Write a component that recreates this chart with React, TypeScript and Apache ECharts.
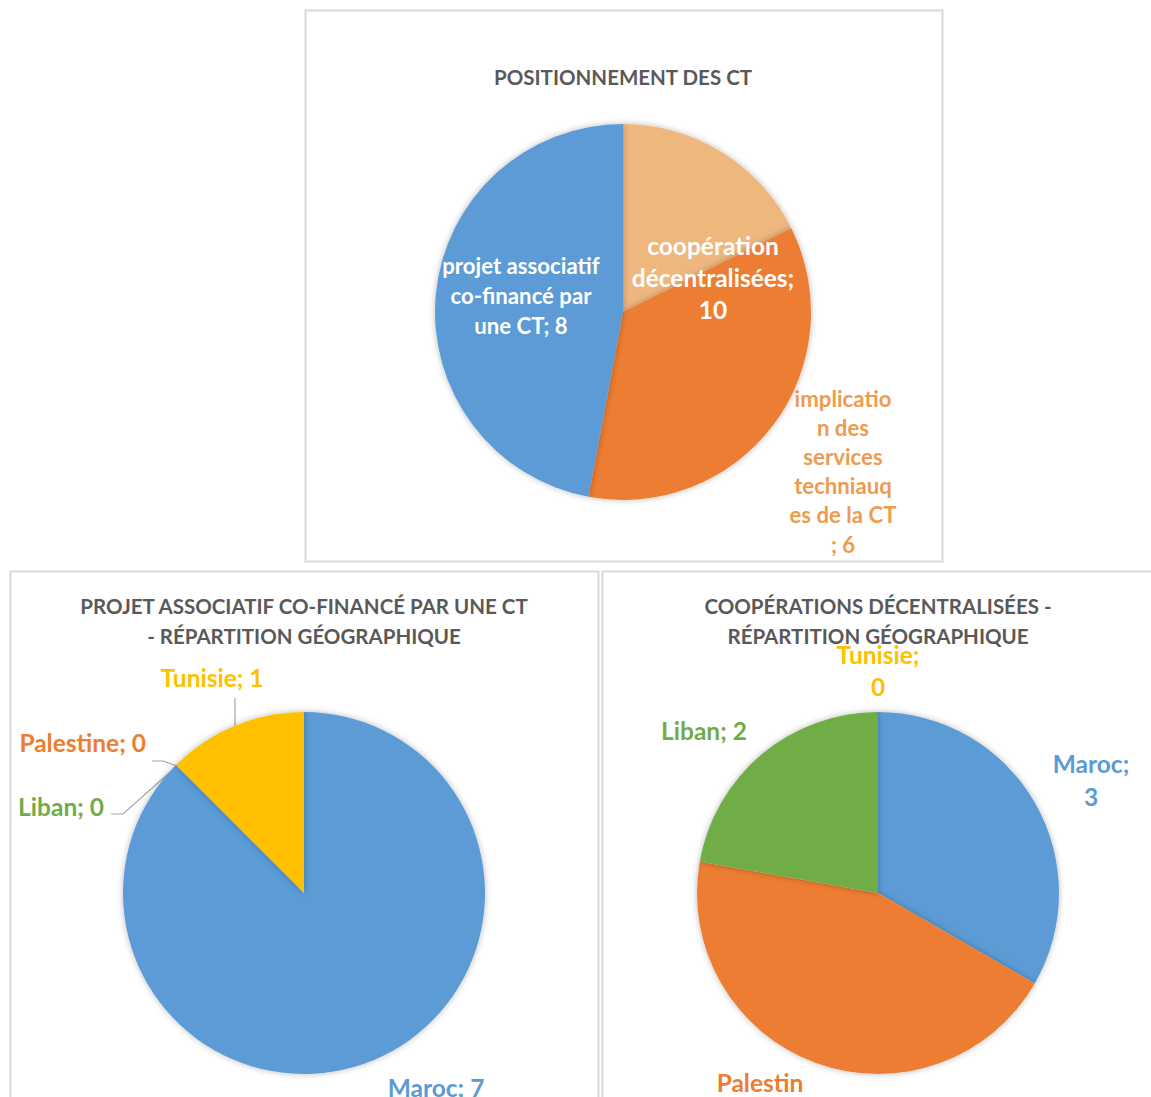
import React, { useEffect, useRef } from 'react';
import * as echarts from 'echarts';

// ---- Data ----
const positionTitle = 'POSITIONNEMENT DES CT';
const positionCategories = [
  'coopération décentralisées',
  'implication des services techniauqes de la CT',
  'projet associatif co-financé par une CT',
];
const positionValues = [3, 6, 8]; // slice sizes as drawn
const positionLabelValues = [10, 6, 8]; // values printed in the labels
const positionLabelTemplates = [
  'coopération\ndécentralisées;\n{v}',
  'implicatio\nn des\nservices\ntechniauq\nes de la CT\n; {v}',
  'projet associatif\nco-financé par\nune CT; {v}',
];

const projetTitle = 'PROJET ASSOCIATIF CO-FINANCÉ PAR UNE CT\n- RÉPARTITION GÉOGRAPHIQUE';
const projetCountries = ['Maroc', 'Palestine', 'Liban', 'Tunisie'];
const projetValues = [7, 0, 0, 1];
const projetTemplates = ['Maroc; {v}', 'Palestine; {v}', 'Liban; {v}', 'Tunisie; {v}'];

const coopTitle = 'COOPÉRATIONS DÉCENTRALISÉES -\nRÉPARTITION GÉOGRAPHIQUE';
const coopCountries = ['Maroc', 'Palestine', 'Liban', 'Tunisie'];
const coopValues = [3, 4, 2, 0];
const coopTemplates = ['Maroc;\n{v}', 'Palestin\ne; {v}', 'Liban; {v}', 'Tunisie;\n{v}'];

// ---- Styles ----
const FONT = 'Lato, "Open Sans", sans-serif';
const TITLE_FS = 20.5;
const TITLE_COLOR = '#595959';
const positionColors = ['#EDB77E', '#ED7D31', '#5B9BD5'];
const positionLabelColors = ['#FFFFFF', '#EE9B4E', '#FFFFFF'];
const countryColors = ['#5B9BD5', '#ED7D31', '#70AD47', '#FFC000'];

const shadow = { shadowBlur: 6, shadowColor: 'rgba(0,0,0,0.28)' };

type Pt = [number, number];
type Lay = { x: number; y: number; align: string; lh: number; fs: number };

const mkLayout = (lays: Lay[], lines?: (Pt[] | null)[]) => (params: any) => {
  const l = lays[params.dataIndex];
  const r: any = { x: l.x, y: l.y, align: l.align, verticalAlign: 'middle' };
  if (lines && lines[params.dataIndex]) r.labelLinePoints = lines[params.dataIndex];
  return r;
};

const fill = (t: string, v: number) => t.replace('{v}', String(v));

export default function App() {
  const ref = useRef<HTMLDivElement>(null);
  useEffect(() => {
    if (!ref.current) return;
    const chart = echarts.init(ref.current, undefined, { renderer: 'svg' });

    const topLays: Lay[] = [
      { x: 713, y: 277, align: 'center', lh: 32, fs: 24.5 },
      { x: 843, y: 471, align: 'center', lh: 29.2, fs: 22.2 },
      { x: 521, y: 295, align: 'center', lh: 30, fs: 22.2 },
    ];
    const projLays: Lay[] = [
      { x: 436, y: 1087, align: 'center', lh: 30, fs: 24.5 },
      { x: 146, y: 742, align: 'right', lh: 30, fs: 24.5 },
      { x: 104, y: 806, align: 'right', lh: 30, fs: 24.5 },
      { x: 212, y: 677, align: 'center', lh: 30, fs: 24.5 },
    ];
    const projLines: (Pt[] | null)[] = [
      null,
      [[177, 766], [163, 761], [152, 761]],
      [[177, 766], [123, 814], [111, 814]],
      [[235, 726], [235, 712], [235, 698]],
    ];
    const coopLays: Lay[] = [
      { x: 1091, y: 779.5, align: 'center', lh: 33, fs: 24.5 },
      { x: 760, y: 1098, align: 'center', lh: 32, fs: 24.5 },
      { x: 704, y: 730, align: 'center', lh: 30, fs: 24.5 },
      { x: 878, y: 670, align: 'center', lh: 32, fs: 24.5 },
    ];

    const baseLabel = {
      show: true,
      position: 'outside',
      fontFamily: FONT,
      fontWeight: 'bold',
    };

    const option: any = {
      animation: false,
      backgroundColor: '#ffffff',
      title: [
        { text: positionTitle, left: 623, top: 62 },
        { text: projetTitle, left: 304, top: 591 },
        { text: coopTitle, left: 878, top: 591 },
      ].map((t) => ({
        ...t,
        textAlign: 'center',
        padding: 0,
        textStyle: {
          fontFamily: FONT,
          fontSize: TITLE_FS,
          fontWeight: 'bold',
          color: TITLE_COLOR,
          lineHeight: 30,
        },
      })),
      graphic: [
        { type: 'rect', shape: { x: 305.5, y: 10.5, width: 637, height: 551 }, style: { fill: 'none', stroke: '#D9D9D9', lineWidth: 2 }, z: -1 },
        { type: 'rect', shape: { x: 10.5, y: 571.5, width: 588, height: 620 }, style: { fill: 'none', stroke: '#D9D9D9', lineWidth: 2 }, z: -1 },
        { type: 'rect', shape: { x: 602.5, y: 571.5, width: 620, height: 620 }, style: { fill: 'none', stroke: '#D9D9D9', lineWidth: 2 }, z: -1 },
      ],
      series: [
        {
          type: 'pie',
          center: [623, 312],
          radius: 188,
          startAngle: 90,
          clockwise: true,
          avoidLabelOverlap: false,
          data: positionCategories.map((n, i) => ({
            name: n,
            value: positionValues[i],
            itemStyle: { color: positionColors[i], ...shadow },
            label: { color: positionLabelColors[i], lineHeight: topLays[i].lh, fontSize: topLays[i].fs },
          })),
          label: { ...baseLabel, formatter: (p: any) => fill(positionLabelTemplates[p.dataIndex], positionLabelValues[p.dataIndex]) },
          labelLine: { show: false },
          labelLayout: mkLayout(topLays),
        },
        {
          type: 'pie',
          center: [304, 893],
          radius: 181,
          startAngle: 90,
          clockwise: true,
          avoidLabelOverlap: false,
          data: projetCountries.map((n, i) => ({
            name: n,
            value: projetValues[i],
            itemStyle: { color: countryColors[i], ...shadow },
            label: { color: countryColors[i], lineHeight: projLays[i].lh, fontSize: projLays[i].fs },
            labelLine: { show: !!projLines[i] },
          })),
          label: { ...baseLabel, formatter: (p: any) => fill(projetTemplates[p.dataIndex], projetValues[p.dataIndex]) },
          labelLine: { show: true, lineStyle: { color: '#A6A6A6', width: 1.2 } },
          labelLayout: mkLayout(projLays, projLines),
        },
        {
          type: 'pie',
          center: [878, 893],
          radius: 181,
          startAngle: 90,
          clockwise: true,
          avoidLabelOverlap: false,
          data: coopCountries.map((n, i) => ({
            name: n,
            value: coopValues[i],
            itemStyle: { color: countryColors[i], ...shadow },
            label: { color: countryColors[i], lineHeight: coopLays[i].lh, fontSize: coopLays[i].fs },
          })),
          label: { ...baseLabel, formatter: (p: any) => fill(coopTemplates[p.dataIndex], coopValues[p.dataIndex]) },
          labelLine: { show: false },
          labelLayout: mkLayout(coopLays),
        },
      ],
    };
    chart.setOption(option);
    return () => chart.dispose();
  }, []);

  return (
    <div
      ref={ref}
      style={{ position: 'fixed', left: 0, top: 0, width: 1151, height: 1097 }}
    />
  );
}
